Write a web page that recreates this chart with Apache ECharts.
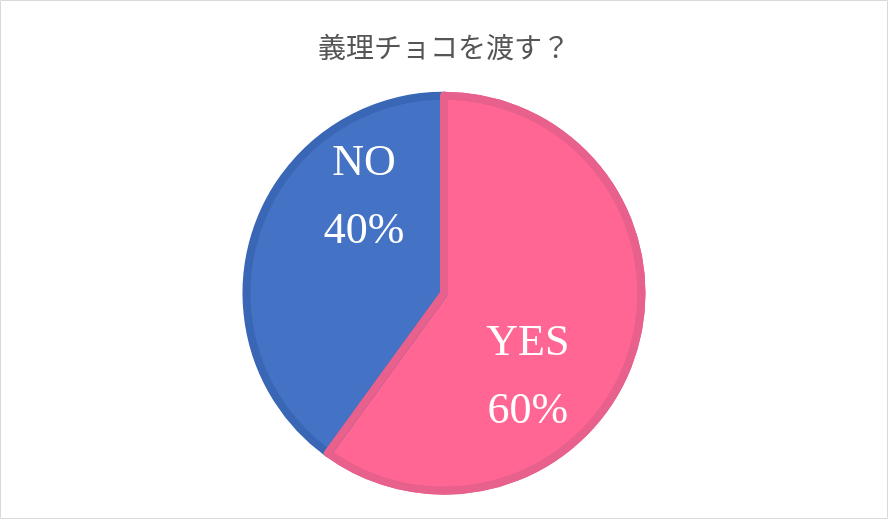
<!DOCTYPE html>
<html>
<head>
<meta charset="utf-8">
<script src="https://cdn.jsdelivr.net/npm/echarts@6/dist/echarts.min.js"></script>
<style>
html,body{margin:0;padding:0;background:#fff;}
#chart{width:888px;height:519px;}
</style>
</head>
<body>
<div id="chart"></div>
<script>
const titleText = '義理チョコを渡す？';
const categories = ['YES', 'NO'];
const values = [60, 40];
const fillColors = ['#FF6694', '#4472C4'];
const borderColors = ['#E8608C', '#3A66B6'];

const chart = echarts.init(document.getElementById('chart'), null, {renderer: 'canvas'});

// label placement (polar, degrees clockwise from 12 o'clock, fraction of radius)
const labelPlace = [{angle: 135, r: 0.60}, {angle: -40, r: 0.63}];
const R = 197.5;
const centerPct = [0.5, 0.565];

const pieData = categories.map((c, i) => ({
  name: c,
  value: values[i],
  itemStyle: {color: fillColors[i], borderColor: borderColors[i]}
}));
const overlayData = categories.map((c, i) => ({
  name: c,
  value: values[i],
  itemStyle: i === 0
    ? {color: 'rgba(0,0,0,0)', borderColor: borderColors[i], borderWidth: 8}
    : {color: 'rgba(0,0,0,0)', borderColor: 'rgba(0,0,0,0)', borderWidth: 0}
}));

chart.setOption({
  animation: false,
  backgroundColor: '#fff',
  title: {
    text: titleText,
    left: 'center',
    top: 28,
    textStyle: {fontFamily: '"Noto Sans CJK JP", sans-serif', fontSize: 28, fontWeight: 'normal', color: '#555555'}
  },
  graphic: [{
    type: 'rect',
    shape: {x: 0.5, y: 0.5, width: 887, height: 518},
    style: {fill: 'none', stroke: '#D9D9D9', lineWidth: 1},
    silent: true
  }],
  series: [{
    type: 'pie',
    radius: R,
    center: [centerPct[0] * 100 + '%', centerPct[1] * 100 + '%'],
    startAngle: 90,
    clockwise: true,
    data: pieData,
    itemStyle: {borderWidth: 8},
    label: {
      show: true,
      position: 'inside',
      formatter: '{b}\n{d}%',
      color: '#fff',
      fontFamily: '"Liberation Serif", "DejaVu Serif", serif',
      fontSize: 44,
      lineHeight: 68
    },
    labelLine: {show: false},
    labelLayout: function (p) {
      const w = chart.getWidth(), h = chart.getHeight();
      const cx = w * centerPct[0], cy = h * centerPct[1];
      const lp = labelPlace[p.dataIndex];
      const a = lp.angle * Math.PI / 180;
      return {
        x: cx + Math.sin(a) * R * lp.r,
        y: cy - Math.cos(a) * R * lp.r,
        align: 'center',
        verticalAlign: 'middle'
      };
    },
    emphasis: {disabled: true}
  }, {
    type: 'pie',
    radius: R,
    center: [centerPct[0] * 100 + '%', centerPct[1] * 100 + '%'],
    startAngle: 90,
    clockwise: true,
    data: overlayData,
    label: {show: false},
    labelLine: {show: false},
    silent: true,
    emphasis: {disabled: true}
  }]
});
</script>
</body>
</html>
